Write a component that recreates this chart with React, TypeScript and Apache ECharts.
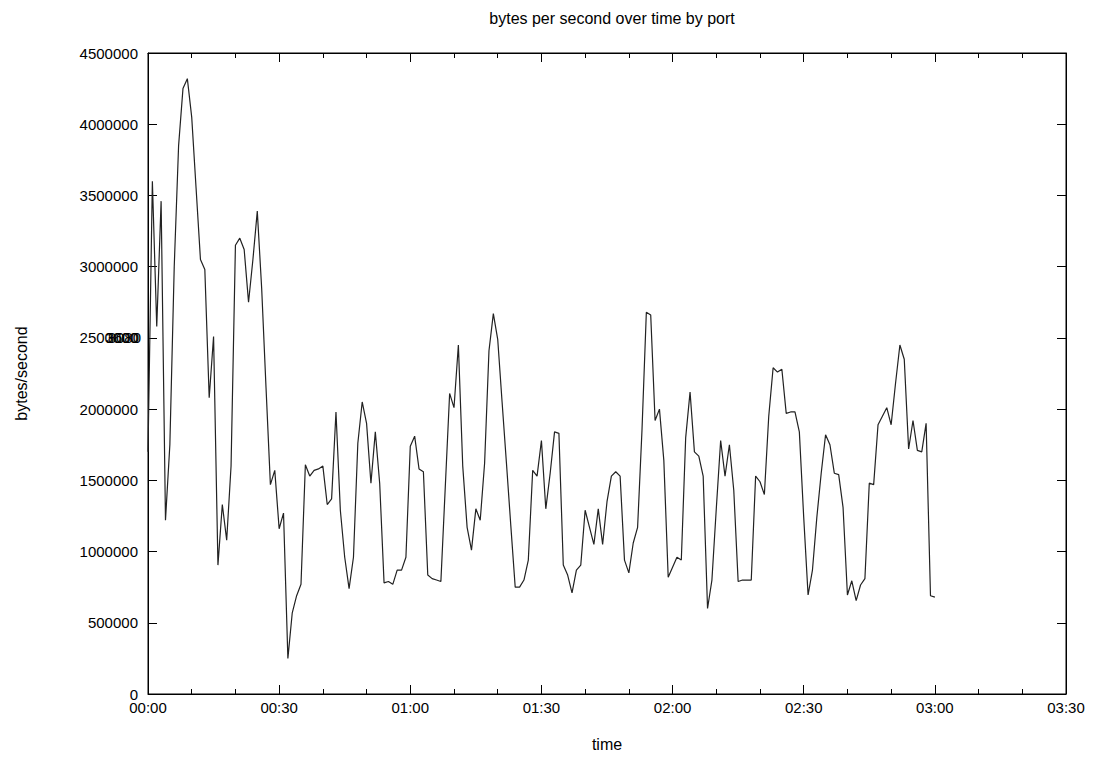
import React, { useEffect, useRef } from "react";
import * as echarts from "echarts";

const TITLE = "bytes per second over time by port";
const X_NAME = "time";
const Y_NAME = "bytes/second";

// bytes per second, one sample per minute starting at 00:00
const bytesPerSecond: number[] = [
  1700000, 3600000, 2580000, 3460000, 1220000, 1750000, 3000000, 3850000, 4250000, 4320000,
  4050000, 3550000, 3050000, 2980000, 2080000, 2510000, 905000, 1330000, 1080000, 1600000,
  3150000, 3200000, 3120000, 2750000, 3050000, 3390000, 2850000, 2150000, 1470000, 1570000,
  1160000, 1270000, 250000, 570000, 690000, 770000, 1610000, 1530000, 1570000, 1580000,
  1600000, 1330000, 1370000, 1980000, 1290000, 960000, 740000, 960000, 1760000, 2050000,
  1900000, 1480000, 1840000, 1480000, 780000, 790000, 770000, 870000, 870000, 960000,
  1740000, 1810000, 1580000, 1560000, 835000, 810000, 800000, 790000, 1450000, 2110000,
  2010000, 2450000, 1600000, 1170000, 1010000, 1300000, 1220000, 1620000, 2410000, 2670000,
  2490000, 2050000, 1620000, 1180000, 750000, 750000, 800000, 940000, 1570000, 1530000,
  1780000, 1300000, 1550000, 1840000, 1830000, 905000, 835000, 710000, 870000, 905000,
  1290000, 1170000, 1050000, 1300000, 1050000, 1350000, 1530000, 1560000, 1530000, 940000,
  850000, 1060000, 1170000, 1850000, 2680000, 2660000, 1920000, 2000000, 1640000, 820000,
  890000, 960000, 940000, 1800000, 2120000, 1700000, 1670000, 1530000, 600000, 800000,
  1300000, 1780000, 1530000, 1750000, 1430000, 790000, 800000, 800000, 800000, 1530000,
  1490000, 1400000, 1950000, 2290000, 2260000, 2280000, 1970000, 1980000, 1980000, 1840000,
  1240000, 695000, 870000, 1240000, 1550000, 1820000, 1750000, 1550000, 1540000, 1310000,
  695000, 795000, 655000, 765000, 810000, 1480000, 1470000, 1890000, 1950000, 2010000,
  1890000, 2180000, 2450000, 2350000, 1720000, 1920000, 1710000, 1700000, 1900000, 690000,
  680000,
];

// minutes since 00:00 of each sample
const sampleMinutes: number[] = bytesPerSecond.map((_, i) => i);

// overlapping key labels drawn on top of the 2500000 tick label
const overlapLabels: string[] = ["3600", "8080"];

const X_MIN = 0;
const X_MAX = 210;
const X_STEP = 30;
const Y_MIN = 0;
const Y_MAX = 4500000;
const Y_STEP = 500000;

const FONT = '"Liberation Sans", Arial, Helvetica, sans-serif';
const FS = 16;
const TICK_FS = 15;

function fmtTime(m: number): string {
  const h = Math.floor(m / 60);
  const mm = Math.round(m % 60);
  return `${String(h).padStart(2, "0")}:${String(mm).padStart(2, "0")}`;
}

export default function App() {
  const ref = useRef<HTMLDivElement>(null);

  useEffect(() => {
    if (!ref.current) return;
    const chart = echarts.init(ref.current, undefined, { renderer: "svg" });

    const tickCommon = {
      axisLine: { show: true, onZero: false, lineStyle: { color: "#000", width: 1 } },
      splitLine: { show: false },
    };

    chart.setOption({
      animation: false,
      backgroundColor: "#fff",
      textStyle: { fontFamily: FONT },
      title: {
        text: TITLE,
        left: 607,
        textAlign: "center",
        top: 5,
        textStyle: { fontFamily: FONT, fontSize: FS, fontWeight: "normal", color: "#000" },
      },
      grid: {
        left: 148,
        right: 33,
        top: 53,
        bottom: 68,
        show: true,
        borderColor: "#000",
        borderWidth: 1,
        backgroundColor: "transparent",
      },
      xAxis: [
        {
          type: "value",
          min: X_MIN,
          max: X_MAX,
          interval: X_STEP,
          position: "bottom",
          name: X_NAME,
          nameLocation: "middle",
          nameGap: 42,
          nameTextStyle: { fontFamily: FONT, fontSize: FS, color: "#000" },
          ...tickCommon,
          axisTick: { show: true, inside: true, length: 9, lineStyle: { color: "#000" } },
          minorTick: { show: true, splitNumber: 3, length: 5, lineStyle: { color: "#000" } },
          minorSplitLine: { show: false },
          axisLabel: {
            formatter: (v: number) => fmtTime(v),
            color: "#000",
            fontFamily: FONT,
            fontSize: TICK_FS,
            margin: 6,
          },
        },
        {
          type: "value",
          min: X_MIN,
          max: X_MAX,
          interval: X_STEP,
          position: "top",
          ...tickCommon,
          axisTick: { show: true, inside: true, length: 9, lineStyle: { color: "#000" } },
          minorTick: { show: true, splitNumber: 3, length: 5, lineStyle: { color: "#000" } },
          axisLabel: { show: false },
        },
      ],
      yAxis: [
        {
          type: "value",
          min: Y_MIN,
          max: Y_MAX,
          interval: Y_STEP,
          position: "left",
          name: Y_NAME,
          nameLocation: "middle",
          nameGap: 119,
          nameRotate: 90,
          nameTextStyle: { fontFamily: FONT, fontSize: FS, color: "#000" },
          ...tickCommon,
          axisTick: { show: true, inside: true, length: 9, lineStyle: { color: "#000" } },
          axisLabel: {
            color: "#000",
            fontFamily: FONT,
            fontSize: TICK_FS,
            margin: 10,
            formatter: (v: number) => String(v),
          },
        },
        {
          type: "value",
          min: Y_MIN,
          max: Y_MAX,
          interval: Y_STEP,
          position: "right",
          ...tickCommon,
          axisTick: { show: true, inside: true, length: 9, lineStyle: { color: "#000" } },
          axisLabel: { show: false },
        },
      ],
      graphic: overlapLabels.map((t, i) => ({
        type: "text",
        x: 139 + i * 2,
        y: 337,
        silent: true,
        style: {
          text: t,
          align: "right",
          verticalAlign: "middle",
          textAlign: "right",
          textVerticalAlign: "middle",
          font: `${TICK_FS}px ${FONT}`,
          fill: "#000",
        },
      })),
      series: [
        {
          type: "line",
          xAxisIndex: 0,
          yAxisIndex: 0,
          data: sampleMinutes.map((m, i) => [m, bytesPerSecond[i]]),
          showSymbol: false,
          symbol: "none",
          lineStyle: { color: "#222", width: 1.2 },
        },
      ],
    });

    return () => chart.dispose();
  }, []);

  return <div ref={ref} style={{ width: 1099, height: 762, position: "absolute", left: 0, top: 0 }} />;
}
